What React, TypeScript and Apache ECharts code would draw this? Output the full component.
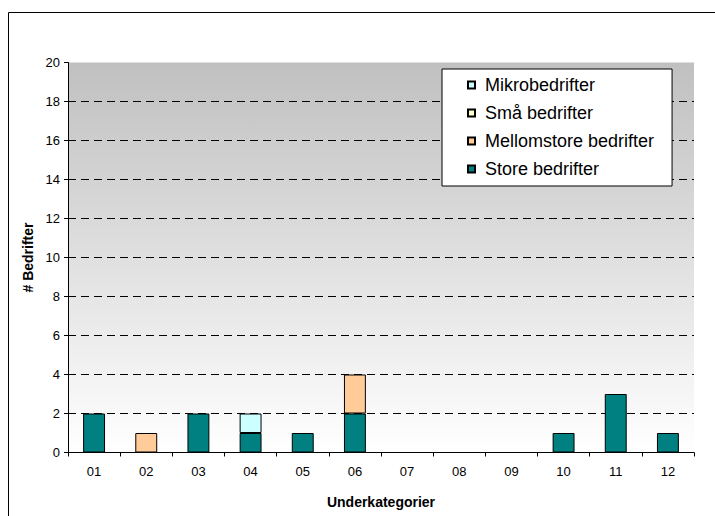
import React, { useEffect, useRef } from "react";
import * as echarts from "echarts";

const categories = ["01", "02", "03", "04", "05", "06", "07", "08", "09", "10", "11", "12"];
const storeBedrifter = [2, 0, 2, 1, 1, 2, 0, 0, 0, 1, 3, 1];
const mellomstoreBedrifter = [0, 1, 0, 0, 0, 2, 0, 0, 0, 0, 0, 0];
const smaBedrifter = [0, 0, 0, 0, 0, 0, 0, 0, 0, 0, 0, 0];
const mikroBedrifter = [0, 0, 0, 1, 0, 0, 0, 0, 0, 0, 0, 0];
const legendOrder = ["Mikrobedrifter", "Små bedrifter", "Mellomstore bedrifter", "Store bedrifter"];

const FONT = "'Liberation Sans', Arial, sans-serif";

export default function App() {
  const ref = useRef<HTMLDivElement>(null);
  useEffect(() => {
    if (!ref.current) return;
    const chart = echarts.init(ref.current, undefined, { renderer: "svg" });
    const toData = (arr: number[]) => arr.map((v) => (v === 0 ? "-" : v));
    const mk = (name: string, arr: number[], color: string) => ({
      name,
      type: "bar" as const,
      stack: "total",
      data: toData(arr),
      barWidth: "42%",
      itemStyle: { color, borderColor: "#000", borderWidth: 1 },
    });
    chart.setOption({
      animation: false,
      backgroundColor: "#fff",
      textStyle: { fontFamily: FONT },
      graphic: [
        {
          type: "rect",
          shape: { x: 8.5, y: 12.5, width: 900, height: 700 },
          style: { fill: "none", stroke: "#000", lineWidth: 1 },
          silent: true,
          z: 100,
        },
      ],
      grid: {
        left: 68,
        right: 21,
        top: 62.5,
        bottom: 63.5,
        show: true,
        borderWidth: 0,
        backgroundColor: new echarts.graphic.LinearGradient(0, 0, 0, 1, [
          { offset: 0, color: "#c0c0c0" },
          { offset: 1, color: "#ffffff" },
        ]),
      },
      legend: {
        orient: "vertical",
        left: 442,
        top: 69,
        data: legendOrder,
        icon: "rect",
        backgroundColor: "#fff",
        borderColor: "#000",
        borderWidth: 1,
        padding: [7, 18, 8, 25],
        itemWidth: 7,
        itemHeight: 7,
        itemGap: 10,
        textStyle: { fontSize: 18, color: "#000", fontFamily: FONT, lineHeight: 18, padding: [0, 0, 0, 5] },
      },
      xAxis: {
        type: "category",
        data: categories,
        name: "Underkategorier",
        nameLocation: "middle",
        nameGap: 42,
        nameTextStyle: { fontSize: 14, fontWeight: "bold", color: "#000", fontFamily: FONT },
        axisLine: { lineStyle: { color: "#000", width: 1 } },
        axisTick: { show: true, length: 4, alignWithLabel: false, lineStyle: { color: "#000" } },
        axisLabel: { fontSize: 13, color: "#000", margin: 12, fontFamily: FONT },
        splitLine: { show: false },
      },
      yAxis: {
        type: "value",
        min: 0,
        max: 20,
        interval: 2,
        name: "# Bedrifter",
        nameLocation: "middle",
        nameGap: 31,
        nameTextStyle: { fontSize: 14, fontWeight: "bold", color: "#000", fontFamily: FONT },
        axisLine: { show: true, lineStyle: { color: "#000", width: 1 } },
        axisTick: { show: true, length: 4, lineStyle: { color: "#000" } },
        axisLabel: { fontSize: 13, color: "#000", margin: 8, fontFamily: FONT },
        splitLine: {
          show: true,
          showMinLine: false,
          showMaxLine: false,
          lineStyle: { color: "#000", type: [8, 5], width: 1 },
        },
      },
      series: [
        mk("Store bedrifter", storeBedrifter, "#008080"),
        mk("Mellomstore bedrifter", mellomstoreBedrifter, "#ffcc99"),
        mk("Små bedrifter", smaBedrifter, "#ffffcc"),
        mk("Mikrobedrifter", mikroBedrifter, "#ccffff"),
      ],
    });
    return () => chart.dispose();
  }, []);
  return (
    <div
      ref={ref}
      style={{ position: "fixed", left: 0, top: 0, width: 715, height: 516 }}
    />
  );
}
